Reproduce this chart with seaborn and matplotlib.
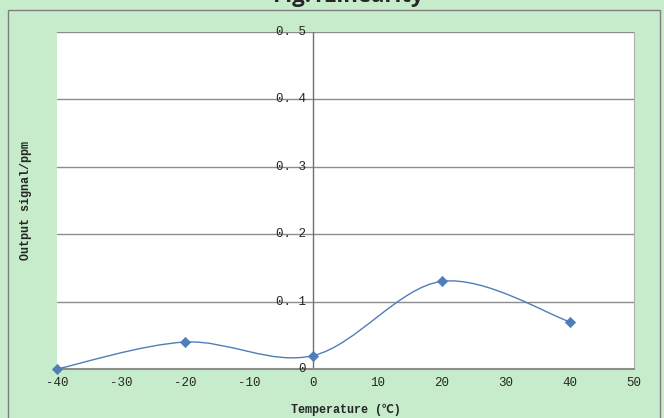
import numpy as np
import pandas as pd
import matplotlib
matplotlib.use("Agg")
import matplotlib.pyplot as plt
from matplotlib.path import Path
from matplotlib.patches import PathPatch, Rectangle
import seaborn as sns

# data
temperature = [-40, -20, 0, 20, 40]
signal = [0.0, 0.04, 0.02, 0.13, 0.07]
x_ticks = [-40, -30, -20, -10, 0, 10, 20, 30, 40, 50]
y_ticks = [0.1, 0.2, 0.3, 0.4, 0.5]

df = pd.DataFrame({"Temperature": temperature, "Signal": signal})

sns.set_style("white")
plt.rcParams['font.family'] = ['Liberation Mono', 'Noto Sans CJK SC', 'DejaVu Sans']

bg = "#C7ECCC"
blue = "#4F7DB8"
grey = "#8C8C8C"

fig = plt.figure(figsize=(6.64, 4.18), dpi=100, facecolor=bg)
ax = fig.add_axes([57/664, 1-369/418, 577/664, 337/418])
ax.set_facecolor("white")

# excel style smoothed line: bezier segments built from the points
pts = df[["Temperature", "Signal"]].to_numpy()
n = len(pts)
verts = [tuple(pts[0])]
codes = [Path.MOVETO]
for i in range(n - 1):
    p0 = pts[max(i - 1, 0)]
    p1 = pts[i]
    p2 = pts[i + 1]
    p3 = pts[min(i + 2, n - 1)]
    c1 = p1 + (p2 - p0) / 6
    c2 = p2 - (p3 - p1) / 6
    verts += [tuple(c1), tuple(c2), tuple(p2)]
    codes += [Path.CURVE4] * 3
ax.add_patch(PathPatch(Path(verts, codes), facecolor="none", edgecolor=blue, lw=1.0, zorder=3))

sns.scatterplot(data=df, x="Temperature", y="Signal", marker="D", s=28,
                color=blue, edgecolor=blue, ax=ax, zorder=4, clip_on=False)

ax.set_xlim(-40, 50)
ax.set_ylim(0, 0.5)
ax.set_xticks(x_ticks)
ax.set_yticks(y_ticks)
ax.set_xticklabels([str(t) for t in x_ticks], fontsize=9)
ax.set_yticklabels([])
for t in y_ticks:
    ax.axhline(t, color=grey, lw=1, zorder=1)
    ax.text(-1.2, t, f"{t:.1f}".replace(".", ". "), ha="right", va="center", fontsize=9)
ax.text(-1.2, 0, "0", ha="right", va="center", fontsize=9)

ax.tick_params(axis="both", length=0, pad=6)
for s in ["top", "left"]:
    ax.spines[s].set_visible(False)
ax.spines["right"].set_color("#B0B0B0")
ax.spines["bottom"].set_color(grey)
ax.spines["bottom"].set_linewidth(1.5)
ax.axvline(0, color="#707070", lw=1, zorder=2)

ax.set_xlabel("Temperature (\u2103)", fontsize=8.5, fontweight="bold", labelpad=10)
ax.set_ylabel("Output signal/ppm", fontsize=8.5, fontweight="bold")
ax.yaxis.set_label_coords(-25/577, 0.5)

# outer chart frame and title sitting above it
fig.patches.append(Rectangle((8/664, -0.05), 652/664, 1.05 - 10/418, transform=fig.transFigure,
                             fill=False, edgecolor="#7F7F7F", lw=1))
fig.text(348/664, 1-2/418, "Fig.1Linearity", ha="center", va="baseline",
         fontsize=16, fontweight="bold", family=["Open Sans", "DejaVu Sans"])

fig.savefig("out.png", dpi=100, facecolor=bg)
